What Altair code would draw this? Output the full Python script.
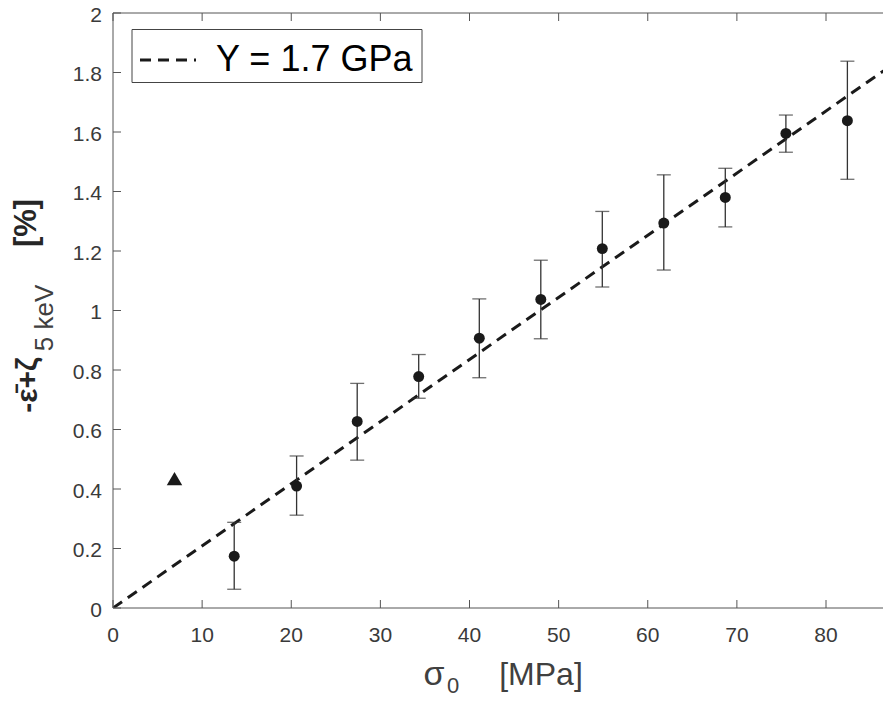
import altair as alt
import pandas as pd

# ---- data ----
sigma0 = [13.6, 20.6, 27.4, 34.3, 41.1, 48.0, 54.9, 61.8, 68.7, 75.5, 82.4]
strain = [0.174, 0.410, 0.627, 0.778, 0.907, 1.037, 1.208, 1.294, 1.380, 1.595, 1.638]
err_hi = [0.288, 0.511, 0.755, 0.852, 1.039, 1.169, 1.333, 1.456, 1.478, 1.657, 1.838]
err_lo = [0.063, 0.312, 0.497, 0.705, 0.774, 0.905, 1.079, 1.136, 1.281, 1.532, 1.441]

tri_x = [6.9]
tri_y = [0.435]

fit_x = [0.0, 87.2]
fit_y = [0.0, 1.821]

x_ticks = [0, 10, 20, 30, 40, 50, 60, 70, 80]
y_ticks = [0, 0.2, 0.4, 0.6, 0.8, 1.0, 1.2, 1.4, 1.6, 1.8, 2.0]

legend_label = "Y = 1.7 GPa"

# ---- layout ----
W, H = 770, 595
XMAX = W / 8.9125
FONT = "Liberation Sans"
AX = "#262626"
LBL = "#3a3a3a"
LINEC = "#555555"

xs = alt.Scale(domain=[0, XMAX], nice=False, zero=False)
ys = alt.Scale(domain=[0, 2], nice=False, zero=False)

pts = pd.DataFrame({"x": sigma0, "y": strain, "hi": err_hi, "lo": err_lo})
tri = pd.DataFrame({"x": tri_x, "y": tri_y})
fit = pd.DataFrame({"x": fit_x, "y": fit_y})
xt = pd.DataFrame({"v": x_ticks})
yt = pd.DataFrame({"v": y_ticks})
one = pd.DataFrame({"k": [0]})

fit_line = alt.Chart(fit).mark_line(
    color="#1a1a1a", strokeWidth=3, strokeDash=[11, 7], strokeCap="butt", clip=True
).encode(
    x=alt.X("x:Q", scale=xs, axis=None),
    y=alt.Y("y:Q", scale=ys, axis=None),
)

bars = alt.Chart(pts).mark_rule(color="#333333", strokeWidth=1.3).encode(
    x=alt.X("x:Q", scale=xs, axis=None),
    y=alt.Y("lo:Q", scale=ys, axis=None),
    y2="hi:Q",
)
caps_hi = alt.Chart(pts).mark_tick(orient="horizontal", size=14, thickness=1.3, color="#333333").encode(
    x=alt.X("x:Q", scale=xs, axis=None),
    y=alt.Y("hi:Q", scale=ys, axis=None),
)
caps_lo = alt.Chart(pts).mark_tick(orient="horizontal", size=14, thickness=1.3, color="#333333").encode(
    x=alt.X("x:Q", scale=xs, axis=None),
    y=alt.Y("lo:Q", scale=ys, axis=None),
)
dots = alt.Chart(pts).mark_circle(size=120, color="#1a1a1a", opacity=1).encode(
    x=alt.X("x:Q", scale=xs, axis=None),
    y=alt.Y("y:Q", scale=ys, axis=None),
)
triangle = alt.Chart(tri).mark_point(shape="triangle-up", size=240, filled=True,
                                     color="#1a1a1a", opacity=1).encode(
    x=alt.X("x:Q", scale=xs, axis=None),
    y=alt.Y("y:Q", scale=ys, axis=None),
)

# frame, inward ticks, tick labels
left_line = alt.Chart(one).mark_rule(color=LINEC, strokeWidth=1).encode(
    x=alt.value(0), y=alt.value(0), y2=alt.value(H))
bottom_line = alt.Chart(one).mark_rule(color=LINEC, strokeWidth=1).encode(
    x=alt.value(0), x2=alt.value(W), y=alt.value(H))
top_border = alt.Chart(one).mark_rule(color=LINEC, strokeWidth=1).encode(
    x=alt.value(0), x2=alt.value(W), y=alt.value(0))
bot_ticks = alt.Chart(xt).mark_rule(color=LINEC, strokeWidth=1).encode(
    x=alt.X("v:Q", scale=xs, axis=None), y=alt.value(H), y2=alt.value(H - 8))
top_ticks = alt.Chart(xt).mark_rule(color=LINEC, strokeWidth=1).encode(
    x=alt.X("v:Q", scale=xs, axis=None), y=alt.value(0), y2=alt.value(8))
left_ticks = alt.Chart(yt).mark_rule(color=LINEC, strokeWidth=1).encode(
    y=alt.Y("v:Q", scale=ys, axis=None), x=alt.value(0), x2=alt.value(8))

x_labels = alt.Chart(xt).mark_text(align="center", baseline="alphabetic", fontSize=21,
                                   font=FONT, color=LBL).encode(
    x=alt.X("v:Q", scale=xs, axis=None), y=alt.value(H + 34),
    text=alt.Text("v:Q", format="~g"))
y_labels = alt.Chart(yt).mark_text(align="right", baseline="middle", fontSize=21, dy=2.5,
                                   font=FONT, color=LBL).encode(
    y=alt.Y("v:Q", scale=ys, axis=None), x=alt.value(-11),
    text=alt.Text("v:Q", format="~g"))

# legend
leg_box = alt.Chart(one).mark_rect(fill="white", stroke="#444444", strokeWidth=1).encode(
    x=alt.value(19), x2=alt.value(309), y=alt.value(16.5), y2=alt.value(69.5))
leg_line = alt.Chart(one).mark_rule(color="#1a1a1a", strokeWidth=3,
                                    strokeDash=[11, 7, 11, 7, 11, 7, 2, 40],
                                    strokeCap="butt").encode(
    x=alt.value(27), x2=alt.value(99), y=alt.value(47))
leg_text = alt.Chart(one).mark_text(align="left", baseline="alphabetic", fontSize=36,
                                    font=FONT, color="#000000", text=legend_label).encode(
    x=alt.value(103), y=alt.value(58))

# x title
xt_sigma = alt.Chart(one).mark_text(align="center", baseline="alphabetic", fontSize=34,
                                    font=FONT, color="#404040", text="σ").encode(
    x=alt.value(321), y=alt.value(672))
xt_sub = alt.Chart(one).mark_text(align="center", baseline="alphabetic", fontSize=22,
                                  font=FONT, color="#404040", text="0").encode(
    x=alt.value(340), y=alt.value(680))
xt_unit = alt.Chart(one).mark_text(align="center", baseline="alphabetic", fontSize=32,
                                   font=FONT, color="#404040", text="[MPa]").encode(
    x=alt.value(428), y=alt.value(672))

# y title (rotated)
yt_main = alt.Chart(one).mark_text(align="center", baseline="middle", angle=270, fontSize=30,
                                   fontWeight="bold", font=FONT, color=AX,
                                   text="-\u03b5\u0304+\u03b6").encode(
    x=alt.value(-85), y=alt.value(372))
yt_sub = alt.Chart(one).mark_text(align="center", baseline="middle", angle=270, fontSize=26,
                                  font=FONT, color="#404040", text="5 keV").encode(
    x=alt.value(-68), y=alt.value(305))
yt_unit = alt.Chart(one).mark_text(align="center", baseline="middle", angle=270, fontSize=31,
                                   fontWeight="bold", font=FONT, color=AX, text="[%]").encode(
    x=alt.value(-86), y=alt.value(210))

chart = alt.layer(
    fit_line, left_line, bottom_line, top_border, bot_ticks, top_ticks, left_ticks,
    x_labels, y_labels,
    bars, caps_hi, caps_lo, dots, triangle,
    leg_box, leg_line, leg_text,
    xt_sigma, xt_sub, xt_unit, yt_main, yt_sub, yt_unit,
).properties(
    width=W, height=H,
    autosize=alt.AutoSizeParams(type="none"),
    padding={"left": 105, "top": 5, "right": 0, "bottom": 90},
).configure_view(stroke=None)

chart.save("out.html", embed_options={"renderer": "svg", "actions": False})
